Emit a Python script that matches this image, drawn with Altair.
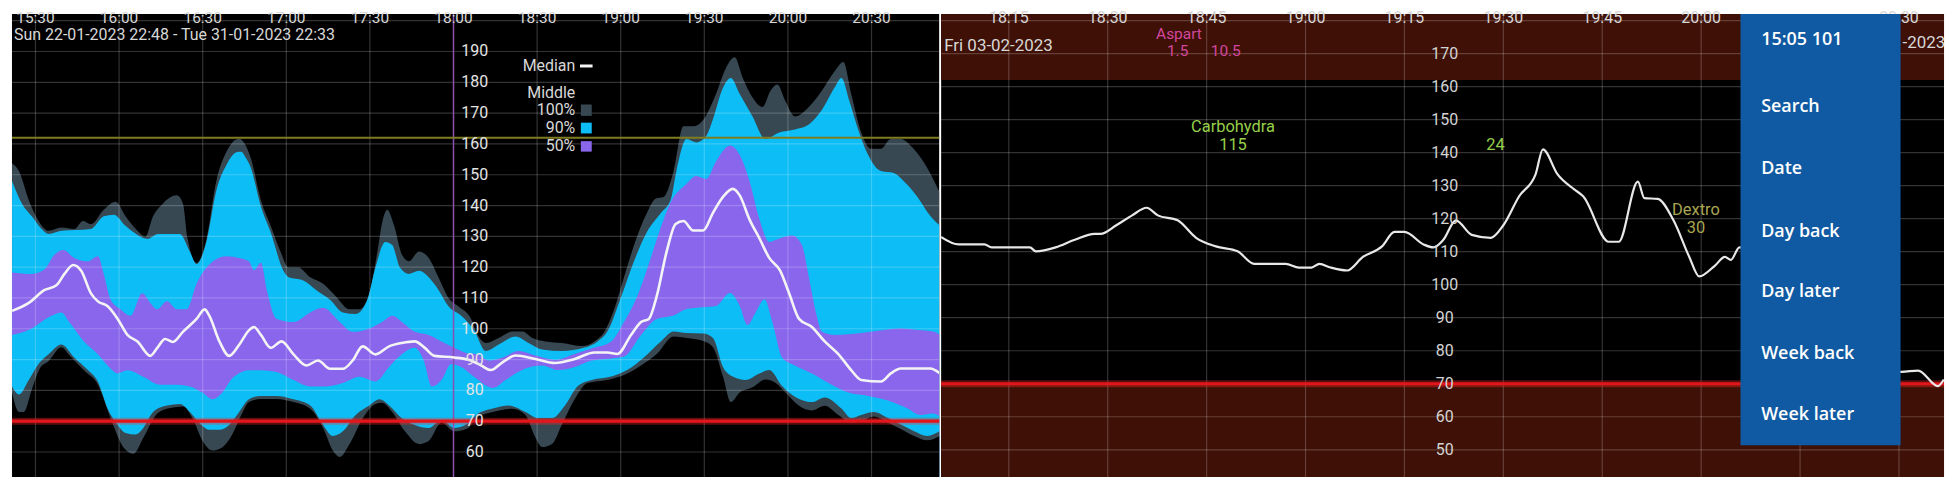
import altair as alt
import pandas as pd

# ---------------- LEFT PANEL: percentile bands (time = minutes after midnight, mg/dL) -------------
UPPER_100 = [(921.6,153.7),(924.1,151.1),(927.6,141.7),(931.1,135.0),(934.7,131.8),(939.3,132.9),(943.9,132.4),
 (947.1,135.0),(949.9,133.9),(954.5,138.6),(958.8,141.2),(962.3,136.5),(966.6,131.8),(969.4,129.8),(972.2,136.5),
 (975.8,140.7),(980.7,143.3),(982.9,140.7),(984.6,129.2),(987.8,121.4),(991.4,129.2),(994.9,148.0),(998.5,157.4),
 (1003.1,161.7),(1004.8,160.5),(1007.3,155.3),(1010.9,141.7),(1014.4,133.4),(1017.9,125.1),(1020.8,119.9),
 (1024.3,119.9),(1028.6,116.7),(1033.2,114.6),(1037.8,110.5),(1042.7,106.3),(1046.3,106.3),(1049.8,111.5),
 (1052.7,125.1),(1054.4,134.4),(1056.2,138.6),(1058.7,133.4),(1061.5,124.0),(1064.0,121.9),(1067.6,125.1),
 (1071.1,123.0),(1074.6,116.7),(1078.2,110.0),(1081.7,107.3),(1086.3,103.2),(1088.1,99.1),(1091.6,95.4),
 (1096.2,97.0),(1101.2,99.1),(1104.8,99.1),(1108.3,97.0),(1112.9,95.9),(1118.9,95.4),(1126.0,94.4),(1130.6,95.9),
 (1134.2,99.1),(1137.7,106.4),(1141.2,116.8),(1144.8,127.2),(1149.4,137.6),(1152.6,142.3),(1155.4,142.8),
 (1159.0,151.2),(1162.5,165.7),(1166.0,165.7),(1169.6,167.8),(1174.2,176.2),(1177.7,184.5),(1180.9,188.1),
 (1183.8,181.4),(1187.3,175.1),(1190.9,172.0),(1193.7,177.2),(1196.2,179.3),(1199.0,174.1),(1202.5,168.9),
 (1207.5,172.0),(1212.1,177.2),(1216.7,183.5),(1219.9,186.6),(1222.7,176.2),(1226.3,163.7),(1229.8,158.4),
 (1233.4,158.4),(1236.9,161.6),(1240.5,161.6),(1245.1,158.4),(1250.0,152.2),(1254.6,144.0)]

UPPER_90 = [(921.6,148.0),(925.1,140.7),(928.7,136.5),(932.2,132.4),(934.7,130.8),(939.3,131.8),(949.9,132.4),
 (954.5,136.5),(958.1,137.0),(962.3,133.4),(966.9,130.3),(970.1,129.2),(974.0,130.8),(981.8,130.8),(985.4,125.0),
 (987.8,121.0),(991.4,128.5),(994.9,144.9),(998.5,153.2),(1002.4,157.4),(1003.8,157.5),(1005.5,155.5),
 (1007.3,152.2),(1010.9,139.7),(1014.4,131.3),(1019.0,118.8),(1020.8,116.7),(1026.1,115.7),(1030.7,112.6),
 (1035.7,109.4),(1040.3,105.3),(1044.9,104.8),(1049.1,109.5),(1052.0,119.9),(1055.5,128.2),(1058.0,127.2),
 (1060.8,119.9),(1064.0,117.8),(1067.6,118.8),(1071.1,116.7),(1074.6,112.6),(1078.2,107.3),(1082.8,104.2),
 (1087.4,99.5),(1091.6,92.8),(1096.2,94.9),(1102.3,97.5),(1106.9,95.4),(1111.8,93.3),(1118.9,92.8),(1127.1,93.9),
 (1131.7,95.9),(1135.2,99.1),(1140.2,110.5),(1144.8,122.0),(1149.4,131.4),(1154.4,137.6),(1157.9,141.8),
 (1160.0,151.2),(1163.6,161.6),(1167.1,160.5),(1170.7,162.6),(1173.1,168.0),(1176.7,178.2),(1179.5,181.4),
 (1182.7,176.2),(1187.3,168.9),(1191.9,161.6),(1196.9,163.7),(1202.5,164.7),(1207.5,166.3),(1212.1,170.9),
 (1216.7,178.2),(1219.2,181.4),(1222.0,174.1),(1225.2,164.7),(1228.8,156.4),(1233.4,151.2),(1238.0,150.6),
 (1241.5,148.0),(1246.5,142.8),(1251.1,136.6),(1254.6,133.4)]

UPPER_50 = [(921.6,118.3),(928.7,117.8),(933.3,119.3),(936.8,124.0),(940.0,125.6),(943.9,123.0),(948.9,121.9),
 (952.4,123.5),(954.5,117.8),(957.0,109.4),(960.5,106.3),(964.1,104.2),(968.3,111.5),(971.2,108.4),(973.7,106.3),
 (977.2,108.9),(980.7,106.3),(984.3,106.3),(987.8,114.6),(992.4,120.9),(998.5,123.5),(1003.1,123.0),
 (1006.6,121.9),(1008.4,119.0),(1010.9,121.4),(1013.0,112.6),(1016.5,103.2),(1022.6,102.2),(1028.6,105.3),
 (1033.2,106.8),(1039.2,102.2),(1043.8,99.0),(1049.8,100.1),(1054.4,102.2),(1058.0,104.2),(1061.5,102.2),
 (1066.1,99.0),(1071.1,98.0),(1075.7,95.9),(1080.3,93.8),(1085.3,92.0),(1088.1,91.8),(1092.7,89.7),(1097.7,90.7),
 (1103.3,92.8),(1109.4,91.3),(1116.4,89.9),(1123.5,91.8),(1130.6,93.9),(1136.6,95.9),(1141.2,102.2),
 (1145.9,110.5),(1150.8,123.0),(1154.4,133.0),(1157.9,141.0),(1163.6,147.0),(1167.1,149.6),(1170.7,148.6),
 (1174.2,154.3),(1179.2,159.5),(1182.7,156.4),(1186.2,148.0),(1189.8,135.5),(1193.3,128.2),(1196.9,129.3),
 (1201.5,130.3),(1205.0,127.2),(1207.5,116.8),(1210.3,104.3),(1212.1,99.1),(1216.7,98.0),(1226.3,98.6),
 (1234.4,99.6),(1240.5,100.1),(1246.5,99.6),(1252.1,99.1),(1254.6,98.0)]

MEDIAN = [(921.6,105.8),(927.6,108.4),(933.3,112.6),(937.5,114.1),(940.4,117.8),(943.5,120.7),(946.4,118.8),
 (949.9,111.5),(952.4,108.9),(955.9,107.3),(959.5,103.2),(963.0,98.0),(966.6,95.9),(971.2,91.2),(973.7,93.8),
 (976.5,96.7),(979.3,95.7),(982.9,99.0),(987.8,103.2),(990.7,106.3),(992.4,104.2),(996.0,95.9),(999.5,91.2),
 (1003.1,94.8),(1006.6,99.5),(1008.4,100.6),(1010.9,98.0),(1014.4,93.8),(1018.3,95.9),(1022.6,91.7),
 (1027.2,88.1),(1031.4,89.7),(1035.7,87.0),(1040.3,87.0),(1043.8,89.7),(1047.4,94.3),(1052.0,91.7),
 (1056.9,94.3),(1061.5,95.4),(1066.1,95.9),(1069.7,93.8),(1073.2,91.2),(1080.3,90.7),(1086.3,89.7),
 (1089.9,88.1),(1093.4,86.6),(1097.7,89.2),(1102.3,91.3),(1109.4,90.2),(1116.4,88.9),(1123.5,90.2),
 (1130.6,92.3),(1135.2,92.3),(1138.8,91.8),(1143.7,98.0),(1147.3,102.2),(1150.1,103.2),(1152.9,110.5),
 (1156.5,125.1),(1159.7,134.0),(1162.5,135.0),(1166.0,131.9),(1169.6,131.9),(1173.1,137.6),(1176.7,142.8),
 (1180.2,145.4),(1182.7,143.3),(1186.2,135.5),(1189.8,129.3),(1193.3,123.0),(1197.2,118.9),(1200.4,111.6),
 (1204.0,103.2),(1208.6,100.6),(1213.2,95.9),(1218.1,91.8),(1222.7,86.6),(1226.3,83.4),(1233.4,82.9),
 (1236.9,85.5),(1240.5,87.1),(1251.1,87.1),(1254.6,85.5)]

LOWER_50 = [(921.6,98.0),(928.7,100.1),(934.7,103.7),(939.3,105.3),(942.1,102.2),(947.4,95.9),(952.4,91.7),
 (957.0,87.0),(959.5,85.5),(963.0,86.5),(968.7,84.4),(974.7,81.8),(980.7,81.8),(985.4,81.3),(990.0,79.2),
 (993.5,77.1),(997.0,79.2),(1000.6,83.9),(1004.1,86.0),(1006.6,86.5),(1010.9,86.5),(1016.5,86.0),(1022.6,83.4),
 (1028.6,81.3),(1034.2,81.3),(1040.3,82.4),(1046.3,84.4),(1052.0,82.9),(1056.9,87.6),(1061.5,91.7),
 (1066.1,93.8),(1069.3,89.7),(1072.2,81.3),(1075.7,83.4),(1079.2,88.6),(1082.8,87.6),(1087.4,84.4),
 (1094.1,80.8),(1098.7,83.4),(1105.8,87.1),(1111.8,88.1),(1117.5,86.6),(1123.5,87.6),(1129.6,89.7),
 (1135.2,90.2),(1141.2,91.0),(1147.3,98.0),(1152.9,103.2),(1159.0,104.3),(1163.6,106.4),(1169.6,107.0),
 (1174.2,107.4),(1179.2,111.6),(1182.7,107.4),(1185.5,101.2),(1188.4,105.3),(1191.6,109.5),(1194.4,102.2),
 (1197.9,90.7),(1202.5,88.1),(1208.6,85.5),(1214.6,82.4),(1221.7,79.3),(1228.8,78.2),(1235.9,76.7),
 (1242.9,74.1),(1247.5,72.0),(1252.1,72.5),(1254.6,71.5)]

LOWER_90 = [(921.6,81.3),(924.1,78.7),(927.6,83.4),(931.1,88.6),(934.7,91.7),(939.3,94.9),(943.9,90.7),
 (948.9,86.5),(952.4,82.8),(955.9,74.0),(959.5,68.8),(962.3,66.2),(965.9,65.7),(968.7,67.8),(972.2,73.0),
 (977.2,75.1),(981.8,75.6),(985.4,73.0),(988.9,69.3),(992.4,67.2),(996.0,67.2),(999.5,68.8),(1003.1,73.0),
 (1006.6,77.1),(1010.9,78.2),(1016.5,78.2),(1022.6,77.1),(1028.6,75.1),(1033.2,68.8),(1036.7,65.2),
 (1040.3,66.7),(1044.9,72.0),(1049.8,75.1),(1053.4,77.1),(1056.9,75.1),(1061.5,70.9),(1066.1,68.8),
 (1071.1,67.8),(1075.7,70.4),(1080.3,67.8),(1085.3,69.3),(1088.1,72.0),(1094.1,74.1),(1099.8,75.1),
 (1105.8,73.0),(1110.4,71.0),(1115.4,71.0),(1120.0,75.1),(1124.6,81.4),(1129.6,83.4),(1136.6,84.5),
 (1142.3,86.6),(1148.3,90.7),(1154.4,95.9),(1159.0,99.1),(1163.6,98.6),(1169.6,98.5),(1173.1,97.0),
 (1176.7,87.6),(1180.2,84.5),(1184.8,83.4),(1189.8,85.5),(1193.3,86.6),(1197.9,81.4),(1204.0,77.2),
 (1208.6,76.2),(1213.2,77.7),(1219.2,74.1),(1222.7,71.0),(1226.3,72.0),(1230.9,73.0),(1235.9,71.0),
 (1240.5,68.9),(1245.1,66.8),(1250.0,65.2),(1254.6,66.8)]

LOWER_100 = [(921.6,79.2),(924.1,73.0),(925.8,73.0),(928.7,80.3),(931.5,87.0),(934.7,89.5),(939.3,94.0),
 (942.1,91.5),(947.4,86.5),(952.4,81.8),(957.0,70.9),(961.6,61.5),(965.2,59.4),(968.7,64.6),(973.7,72.5),
 (978.3,74.3),(982.9,74.8),(986.4,70.9),(990.0,63.6),(993.5,60.5),(997.0,61.5),(1000.6,65.7),(1004.1,72.5),
 (1006.6,76.2),(1010.9,77.2),(1016.5,77.2),(1022.6,76.2),(1028.6,74.0),(1033.2,67.8),(1036.7,60.5),
 (1039.2,58.4),(1042.7,62.6),(1047.4,70.9),(1052.0,75.6),(1054.4,76.0),(1058.0,73.0),(1062.6,66.7),
 (1067.6,62.6),(1071.1,63.6),(1075.7,69.5),(1080.3,66.7),(1085.3,67.8),(1088.1,71.0),(1094.1,73.0),
 (1101.2,74.0),(1105.8,72.0),(1109.4,64.7),(1111.8,61.6),(1115.4,62.6),(1118.9,68.9),(1123.5,77.2),
 (1128.1,82.4),(1135.2,83.4),(1141.2,85.0),(1147.3,88.1),(1152.9,91.8),(1159.0,97.5),(1163.6,97.0),
 (1169.6,96.0),(1173.1,94.0),(1176.7,84.5),(1179.5,76.2),(1182.7,79.3),(1187.3,81.0),(1191.9,83.5),
 (1195.5,82.5),(1199.0,79.5),(1204.0,75.0),(1208.6,73.5),(1213.2,75.0),(1218.1,72.0),(1222.7,69.5),
 (1226.3,70.0),(1230.9,71.5),(1235.9,69.5),(1240.5,67.5),(1245.1,65.3),(1250.0,63.8),(1254.6,65.3)]

LEFT_TICKS = [930, 960, 990, 1020, 1050, 1080, 1110, 1140, 1170, 1200, 1230]
LEFT_TICK_LABELS = ["15:30", "16:00", "16:30", "17:00", "17:30", "18:00", "18:30", "19:00", "19:30", "20:00", "20:30"]
LEFT_Y_LABELS = [60, 70, 80, 90, 100, 110, 120, 130, 140, 150, 160, 170, 180, 190]
LEFT_GRID = [60, 70, 80, 90, 100, 110, 120, 130, 140, 150, 160, 170, 180, 190, 200]
LEFT_RANGE_TEXT = "Sun 22-01-2023 22:48 - Tue 31-01-2023 22:33"
LEGEND_LABELS = ["Median", "Middle", "100%", "90%", "50%"]
LEGEND_SWATCHES = ["100%", "90%", "50%"]
NOW_TIME = 1080
LOW_LIMIT = 70
HIGH_LIMIT = 162

# ---------------- RIGHT PANEL: one day -------------
DAY_T = [1084.7, 1087.4, 1091.3, 1092.4, 1098.2, 1099.1, 1102.1, 1105.0, 1108.0, 1108.9, 1111.3, 1113.7,
         1115.9, 1117.6, 1120.6, 1123.4, 1126.4, 1129.7, 1132.2, 1137.0, 1139.0, 1140.9, 1142.1, 1143.8,
         1146.3, 1148.7, 1151.6, 1153.5, 1155.0, 1157.9, 1159.4, 1160.9, 1162.8, 1165.2, 1168.1, 1170.0,
         1172.4, 1174.9, 1176.0, 1178.2, 1180.8, 1182.1, 1186.0, 1187.5, 1190.4, 1191.4, 1193.4, 1195.8,
         1198.2, 1199.7, 1202.1, 1203.6, 1204.5, 1205.8, 1230.4, 1232.9, 1235.9, 1236.8]
DAY_V = [114.5, 112.2, 112.2, 111.3, 111.3, 110.1, 111.3, 113.6, 115.4, 115.4, 118.0, 121.0,
         123.3, 121.0, 119.5, 114.2, 111.6, 110.1, 106.3, 106.3, 105.2, 105.2, 106.3, 105.2,
         104.3, 108.4, 111.6, 116.0, 116.0, 112.2, 111.3, 113.6, 119.5, 115.1, 114.2, 118.0,
         126.8, 133.5, 141.0, 133.5, 128.8, 126.8, 113.0, 113.0, 131.2, 126.2, 126.0, 119.5,
         108.4, 102.5, 105.8, 108.4, 107.5, 111.3, 73.6, 74.0, 69.3, 71.3]

RIGHT_TICKS = [1095, 1110, 1125, 1140, 1155, 1170, 1185, 1200, 1215, 1230]
RIGHT_LABEL_TICKS = [1095, 1110, 1125, 1140, 1155, 1170, 1185, 1200, 1230]
RIGHT_TICK_LABELS = ["18:15", "18:30", "18:45", "19:00", "19:15", "19:30", "19:45", "20:00", "20:30"]
RIGHT_Y_LABELS = [50, 60, 70, 80, 90, 100, 110, 120, 130, 140, 150, 160, 170]
RIGHT_GRID = [50, 60, 70, 80, 90, 100, 110, 120, 130, 140, 150, 160, 170, 180]
DAY_TEXT = "Fri 03-02-2023"
NEXT_DAY_TEXT = "-2023"

EVENT_TEXT = ["Aspart", "1.5", "10.5", "Carbohydra", "115", "24", "Dextro", "30"]
EVENT_T = [1120.8, 1120.6, 1127.9, 1129.0, 1129.0, 1168.8, 1199.2, 1199.2]
EVENT_V = [174.5, 169.2, 169.2, 146.1, 140.9, 140.9, 121.0, 115.8]
EVENT_SIZE = [15.5, 15.5, 15.5, 16.5, 16.5, 16.5, 16.5, 16.5]
EVENT_KIND = ["insulin", "insulin", "insulin", "carbs", "carbs", "carbs", "dextro", "dextro"]

MENU_ITEMS = ["15:05 101", "Search", "Date", "Day back", "Day later", "Week back", "Week later"]
MENU_LEVELS = [174.1, 153.7, 135.0, 116.1, 97.7, 79.1, 60.4]

# ---------------- styling / layout constants -------------
L_X = alt.Scale(domain=[921.57, 1254.27], nice=False, zero=False)
L_Y = alt.Scale(domain=[51.875, 202.19], nice=False, zero=False)
R_X = alt.Scale(domain=[1084.74, 1236.83], nice=False, zero=False)
R_Y = alt.Scale(domain=[41.75, 182.0], nice=False, zero=False)
L_BOTTOM, R_BOTTOM, R_TOP = 51.875, 41.75, 182.0

SLATE, CYAN, PURPLE = "#374852", "#0dbdf5", "#8966ec"
MAROON = "#3f1006"
TXT = "#d8d8d8"
FONT = "Roboto"


def pairs(p):
    return pd.DataFrame(p, columns=["t", "v"])


def pos(xs, ys, t="t", v="v"):
    return dict(x=alt.X(f"{t}:Q", scale=xs, axis=None), y=alt.Y(f"{v}:Q", scale=ys, axis=None))


def band(p, color):
    return alt.Chart(pairs(p)).mark_area(color=color, interpolate="monotone", clip=True).encode(
        **pos(L_X, L_Y), y2=alt.datum(L_BOTTOM))


def hrules(values, ys, **style):
    return alt.Chart(pd.DataFrame({"v": values})).mark_rule(**style).encode(
        y=alt.Y("v:Q", scale=ys, axis=None))


def vrules(values, xs, **style):
    return alt.Chart(pd.DataFrame({"t": values})).mark_rule(**style).encode(
        x=alt.X("t:Q", scale=xs, axis=None))


def texts(df, xs, ys, **style):
    return alt.Chart(df).mark_text(**style).encode(**pos(xs, ys), text="label:N")


# ---------------- left panel -------------
left_layers = [
    band(UPPER_100, SLATE), band(UPPER_90, CYAN), band(UPPER_50, PURPLE),
    band(LOWER_50, CYAN), band(LOWER_90, SLATE), band(LOWER_100, "#000000"),
    hrules([g for g in LEFT_GRID if g != LOW_LIMIT], L_Y, color="white", opacity=0.2, strokeWidth=1.2),
    vrules([t for t in LEFT_TICKS if t != NOW_TIME], L_X, color="white", opacity=0.2, strokeWidth=1.2),
    vrules([NOW_TIME], L_X, color="#8a4fb0", strokeWidth=1.5),
    hrules([HIGH_LIMIT], L_Y, color="#807c22", strokeWidth=2),
    hrules([LOW_LIMIT], L_Y, color="#ff2a2a", opacity=0.35, strokeWidth=7),
    hrules([LOW_LIMIT], L_Y, color="#e3161b", strokeWidth=3.2),
    alt.Chart(pairs(MEDIAN)).mark_line(color="#f4f4f4", strokeWidth=2.6, interpolate="monotone", clip=True).encode(
        **pos(L_X, L_Y)),
    texts(pd.DataFrame({"t": LEFT_TICKS, "label": LEFT_TICK_LABELS, "v": 199.3}), L_X, L_Y,
          font=FONT, fontSize=15.5, color=TXT, align="center", baseline="alphabetic"),
    texts(pd.DataFrame({"t": [922.3], "label": [LEFT_RANGE_TEXT], "v": [193.6]}), L_X, L_Y,
          font=FONT, fontSize=16, color=TXT, align="left", baseline="alphabetic"),
    texts(pd.DataFrame({"t": 1087.6, "label": [str(v) for v in LEFT_Y_LABELS], "v": LEFT_Y_LABELS}), L_X, L_Y,
          font=FONT, fontSize=16, color="#e4e4e4", align="center", baseline="middle"),
    texts(pd.DataFrame({"t": 1123.7, "label": LEGEND_LABELS, "v": [185.3, 176.6, 170.9, 165.2, 159.4]}), L_X, L_Y,
          font=FONT, fontSize=16, color=TXT, align="right", baseline="middle"),
    alt.Chart(pd.DataFrame({"t": [1125.4], "t2": [1129.9], "v": [185.3]})).mark_rule(
        color="#f4f4f4", strokeWidth=3).encode(**pos(L_X, L_Y), x2="t2:Q"),
    alt.Chart(pd.DataFrame({"t": 1125.7, "t2": 1129.6, "v": [172.8, 166.9, 160.9], "v2": [169.1, 163.4, 157.5],
                            "c": [SLATE, CYAN, PURPLE], "k": LEGEND_SWATCHES})).mark_rect().encode(
        **pos(L_X, L_Y), x2="t2:Q", y2="v2:Q", color=alt.Color("c:N", scale=None)),
]
left = alt.layer(*left_layers).properties(width=931, height=465)

# ---------------- right panel -------------
right_layers = [
    alt.Chart(pd.DataFrame({"v": [HIGH_LIMIT, R_BOTTOM], "v2": [R_TOP, LOW_LIMIT]})).mark_rect(color=MAROON).encode(
        y=alt.Y("v:Q", scale=R_Y, axis=None), y2="v2:Q"),
    hrules(RIGHT_GRID, R_Y, color="white", opacity=0.2, strokeWidth=1.2),
    vrules(RIGHT_TICKS, R_X, color="white", opacity=0.2, strokeWidth=1.2),
    hrules([LOW_LIMIT], R_Y, color="#ff2a2a", opacity=0.35, strokeWidth=7),
    hrules([LOW_LIMIT], R_Y, color="#e3161b", strokeWidth=3.2),
    alt.Chart(pd.DataFrame({"t": DAY_T, "v": DAY_V})).mark_line(
        color="#e8e8e8", strokeWidth=2.2, interpolate="monotone", clip=True).encode(**pos(R_X, R_Y)),
    texts(pd.DataFrame({"t": RIGHT_LABEL_TICKS, "label": RIGHT_TICK_LABELS, "v": 179.3}), R_X, R_Y,
          font=FONT, fontSize=16, color=TXT, align="center", baseline="alphabetic"),
    texts(pd.DataFrame({"t": [1085.2], "label": [DAY_TEXT], "v": [170.9]}), R_X, R_Y,
          font=FONT, fontSize=17, color=TXT, align="left", baseline="alphabetic"),
    texts(pd.DataFrame({"t": 1161.1, "label": [str(v) for v in RIGHT_Y_LABELS], "v": RIGHT_Y_LABELS}), R_X, R_Y,
          font=FONT, fontSize=16, color="#d4d4d4", align="center", baseline="middle"),
    alt.Chart(pd.DataFrame({"t": EVENT_T, "v": EVENT_V, "label": EVENT_TEXT, "kind": EVENT_KIND,
                            "size": EVENT_SIZE})).mark_text(
        font=FONT, align="center", baseline="alphabetic").encode(
        **pos(R_X, R_Y), text="label:N", size=alt.Size("size:Q", scale=None),
        color=alt.Color("kind:N", legend=None,
                        scale=alt.Scale(domain=["insulin", "carbs", "dextro"],
                                        range=["#d4479f", "#97d04a", "#a8a552"]))),
    alt.Chart(pd.DataFrame({"t": [1205.96], "t2": [1230.24], "v": [51.4], "v2": [R_TOP]})).mark_rect(
        color="#0f5aa2").encode(**pos(R_X, R_Y), x2="t2:Q", y2="v2:Q"),
    texts(pd.DataFrame({"t": 1209.1, "label": MENU_ITEMS, "v": MENU_LEVELS}), R_X, R_Y,
          font="Open Sans", fontSize=18, fontWeight=600, color="white", align="left", baseline="middle"),
    texts(pd.DataFrame({"t": [1230.55], "label": [NEXT_DAY_TEXT], "v": [171.8]}), R_X, R_Y,
          font=FONT, fontSize=17, color=TXT, align="left", baseline="alphabetic", clip=True),
]
right = alt.layer(*right_layers).properties(width=1007, height=465)

chart = (
    alt.hconcat(left, right, spacing=2)
    .properties(padding=0, background="white", bounds="flush")
    .configure_view(stroke=None, fill="black")
)

chart.save("out.html", embed_options={"renderer": "svg", "actions": False})
